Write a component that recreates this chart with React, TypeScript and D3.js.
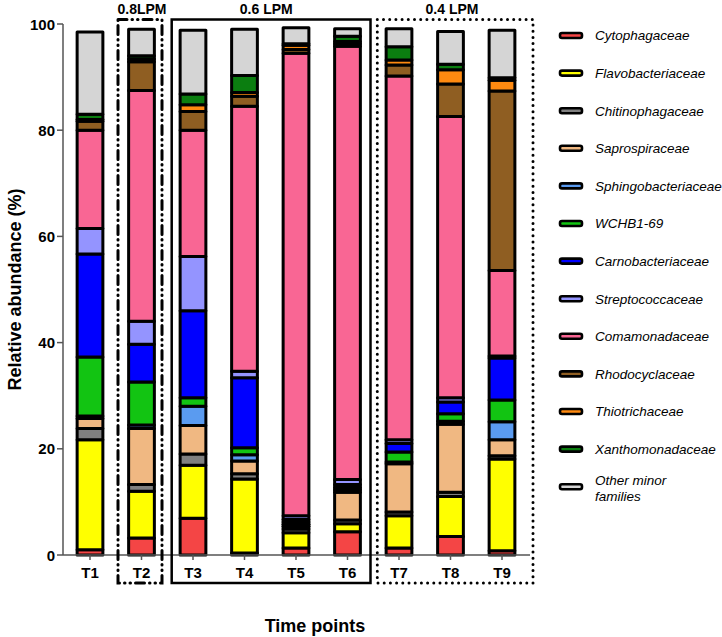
import React from "react";
import * as d3 from "d3";

const timePoints = ["T1", "T2", "T3", "T4", "T5", "T6", "T7", "T8", "T9"];

const families = [
  "Cytophagaceae",
  "Flavobacteriaceae",
  "Chitinophagaceae",
  "Saprospiraceae",
  "Sphingobacteriaceae",
  "WCHB1-69",
  "Carnobacteriaceae",
  "Streptococcaceae",
  "Comamonadaceae",
  "Rhodocyclaceae",
  "Thiotrichaceae",
  "Xanthomonadaceae",
  "Other minor families",
];

const cytophagaceae = [1.0, 3.2, 6.9, 0.4, 1.3, 4.4, 1.3, 3.5, 0.8];
const flavobacteriaceae = [20.7, 8.8, 10.0, 13.9, 2.9, 1.5, 6.1, 7.5, 17.3];
const chitinophagaceae = [2.1, 1.3, 2.1, 1.0, 0.7, 0.7, 0.7, 0.8, 0.6];
const saprospiraceae = [1.9, 10.5, 5.4, 2.4, 0.5, 5.2, 9.1, 12.8, 3.0];
const sphingobacteriaceae = [0.5, 0.7, 3.6, 1.2, 0.4, 0.5, 0.3, 0.6, 3.4];
const wchb169 = [11.1, 8.1, 1.6, 1.3, 0.4, 0.4, 1.9, 1.4, 4.1];
const carnobacteriaceae = [19.4, 7.1, 16.4, 13.2, 0.5, 0.6, 1.6, 2.2, 7.9];
const streptococcaceae = [4.8, 4.3, 10.2, 1.2, 0.7, 0.9, 0.7, 0.8, 0.4];
const comamonadaceae = [18.5, 43.5, 23.8, 49.9, 87.1, 81.6, 68.5, 53.0, 16.1];
const rhodocyclaceae = [1.7, 5.4, 3.5, 1.9, 0.7, 0.5, 2.1, 6.1, 33.8];
const thiotrichaceae = [0.3, 0.5, 1.3, 0.7, 0.8, 0.4, 0.9, 2.7, 2.0];
const xanthomonadaceae = [1.0, 0.6, 2.0, 3.2, 0.3, 1.0, 2.5, 1.0, 0.5];
const otherMinor = [15.5, 5.0, 12.0, 8.7, 3.0, 1.4, 3.4, 6.2, 8.9];

const seriesValues = [
  cytophagaceae,
  flavobacteriaceae,
  chitinophagaceae,
  saprospiraceae,
  sphingobacteriaceae,
  wchb169,
  carnobacteriaceae,
  streptococcaceae,
  comamonadaceae,
  rhodocyclaceae,
  thiotrichaceae,
  xanthomonadaceae,
  otherMinor,
];

const colors = [
  "#F44545",
  "#FFFF00",
  "#808080",
  "#F0B882",
  "#5A9BF0",
  "#12C412",
  "#0000FF",
  "#9494FF",
  "#F96694",
  "#8F5E22",
  "#FF8A10",
  "#0B7E10",
  "#D5D5D5",
];

const yTicks = [0, 20, 40, 60, 80, 100];

const groups = [
  { label: "0.8LPM", from: "T2", to: "T2", style: "dashdot" },
  { label: "0.6 LPM", from: "T3", to: "T6", style: "solid" },
  { label: "0.4 LPM", from: "T7", to: "T9", style: "dotted" },
];

const FONT = "'Liberation Sans', Arial, Helvetica, sans-serif";

export default function App() {
  const W = 722;
  const H = 637;
  const axisX = 63;
  const y = d3.scaleLinear().domain([0, 100]).range([555, 24]);
  const x = d3
    .scaleBand<string>()
    .domain(timePoints)
    .range([64.25, 527.75])
    .paddingInner(0.5)
    .paddingOuter(0.25);
  const bw = x.bandwidth();
  const cx = (t: string) => (x(t) as number) + bw / 2;

  const rows = timePoints.map((t, i) => {
    const r: Record<string, number | string> = { t };
    families.forEach((f, k) => (r[f] = seriesValues[k][i]));
    return r;
  });
  const stacked = d3.stack<Record<string, number | string>>().keys(families)(rows as any);

  const boxTop = 19.5;
  const boxBottom = 583;

  const groupBox = (g: (typeof groups)[number]) => {
    let left = 0;
    let right = 0;
    if (g.style === "dashdot") {
      left = cx(g.from) - 23.5;
      right = cx(g.to) + 20.5;
    } else if (g.style === "solid") {
      left = cx(g.from) - 21.3;
      right = cx(g.to) + 23;
    } else {
      left = cx(g.from) - 21.7;
      right = cx(g.to) + 31;
    }
    return { left, right };
  };

  const legendX = 560;
  const legendY0 = 35.5;
  const legendStep = 37.6;

  return (
    <svg
      width={W}
      height={H}
      style={{ position: "absolute", left: 0, top: 0, background: "#fff" }}
      fontFamily={FONT}
    >
      {/* bars */}
      {stacked.map((s, k) => (
        <g key={families[k]}>
          {s.map((d, i) => (
            <rect
              key={i}
              x={x(timePoints[i]) as number}
              y={y(d[1])}
              width={bw}
              height={Math.max(0, y(d[0]) - y(d[1]))}
              fill={colors[k]}
              stroke="#000"
              strokeWidth={3}
              strokeLinejoin="round"
            />
          ))}
        </g>
      ))}

      {/* y axis */}
      <line x1={axisX} x2={axisX} y1={y(100)} y2={y(0)} stroke="#555" strokeWidth={1.5} />
      {yTicks.map((v) => (
        <g key={v}>
          <line x1={axisX - 6} x2={axisX} y1={y(v)} y2={y(v)} stroke="#555" strokeWidth={1.5} />
          <text
            x={axisX - 8}
            y={y(v) + 5.5}
            textAnchor="end"
            fontSize={15}
            fontWeight="bold"
          >
            {v}
          </text>
        </g>
      ))}
      <text
        transform={`translate(21, ${(y(0) + y(100)) / 2}) rotate(-90)`}
        textAnchor="middle"
        fontSize={18}
        fontWeight="bold"
      >
        Relative abundance (%)
      </text>

      {/* x axis */}
      <line x1={axisX} x2={530} y1={y(0)} y2={y(0)} stroke="#555" strokeWidth={1.5} />
      {timePoints.map((t) => (
        <g key={t}>
          <line x1={cx(t)} x2={cx(t)} y1={y(0)} y2={y(0) + 5} stroke="#555" strokeWidth={1.5} />
          <text x={cx(t)} y={578} textAnchor="middle" fontSize={15} fontWeight="bold">
            {t}
          </text>
        </g>
      ))}
      <text x={315} y={632} textAnchor="middle" fontSize={18} fontWeight="bold">
        Time points
      </text>

      {/* group boxes */}
      {groups.map((g) => {
        const { left, right } = groupBox(g);
        const dash =
          g.style === "dashdot" ? "9,5,0.5,5,0.5,5" : g.style === "dotted" ? "0,6.2" : undefined;
        const cap = g.style === "solid" ? "butt" : "round";
        const sw = g.style === "solid" ? 2.5 : 3;
        return (
          <g key={g.label}>
            <rect
              x={left}
              y={boxTop}
              width={right - left}
              height={boxBottom - boxTop}
              fill="none"
              stroke="#000"
              strokeWidth={sw}
              strokeDasharray={dash}
              strokeLinecap={cap as any}
            />
            <text
              x={(cx(g.from) + cx(g.to)) / 2 + (g.style === "solid" ? -4 : g.style === "dotted" ? 1.5 : 0.5)}
              y={14}
              textAnchor="middle"
              fontSize={14}
              fontWeight="bold"
            >
              {g.label}
            </text>
          </g>
        );
      })}

      {/* legend */}
      {families.map((f, k) => {
        const cy = legendY0 + k * legendStep;
        const isOther = k === families.length - 1;
        return (
          <g key={f}>
            <rect
              x={legendX}
              y={cy - 2.5}
              width={22}
              height={5}
              rx={2}
              fill={colors[k]}
              stroke="#000"
              strokeWidth={2.6}
            />
            {isOther ? (
              <text x={595} y={cy - 7 + 4.8} fontSize={13.5} fontStyle="italic">
                <tspan x={595}>Other minor</tspan>
                <tspan x={595} dy={16.5}>
                  families
                </tspan>
              </text>
            ) : (
              <text x={595} y={cy + 4.8} fontSize={13.5} fontStyle="italic">
                {f}
              </text>
            )}
          </g>
        );
      })}
    </svg>
  );
}
